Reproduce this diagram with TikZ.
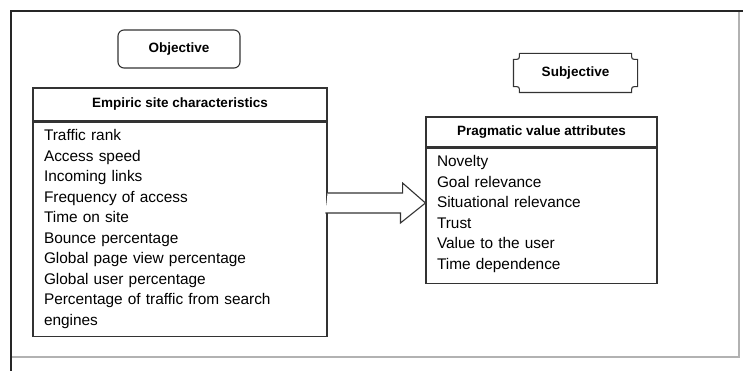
\documentclass[tikz,border=0pt]{standalone}
\usepackage{fontspec}
\setmainfont{Liberation Sans}
\usetikzlibrary{positioning}

\begin{document}
\begin{tikzpicture}[
	x = 1pt,
	y = -1pt,
	font = \fontsize{15.4}{20.5}\selectfont,
	box/.style = {
		draw = black!80,
		line width = 1.1pt
	},
	head/.style = {
		box,
		inner sep = 0pt,
		font = \fontsize{13.5}{16}\selectfont\bfseries
	},
	list/.style = {
		box,
		align = left,
		anchor = north,
		inner xsep = 11pt,
		inner ysep = 7pt,
		text height = 11.5pt
	}
	]
	\useasboundingbox (0,0) rectangle (743,371);
	\draw[line width = 2pt, black!85] (11,371) -- (11,11) -- (743,11);
	\draw[line width = 1.3pt, black!30] (12,357) -- (739,357) -- (739,12);

	\node[head, rounded corners = 6pt, minimum width = 122pt, minimum height = 38pt] (obj) at (179,49) {Objective};
	\node[head, draw = none, minimum width = 123pt, minimum height = 38pt] (subj) at (575.5,73) {Subjective};
	\draw[box] ([xshift=6pt]subj.north west) -- ([xshift=-6pt]subj.north east)
		.. controls ([xshift=-6pt,yshift=-6pt]subj.north east) .. ([yshift=-6pt]subj.north east)
		-- ([yshift=6pt]subj.south east)
		.. controls ([xshift=-6pt,yshift=6pt]subj.south east) .. ([xshift=-6pt]subj.south east)
		-- ([xshift=6pt]subj.south west)
		.. controls ([xshift=6pt,yshift=6pt]subj.south west) .. ([yshift=6pt]subj.south west)
		-- ([yshift=-6pt]subj.north west)
		.. controls ([xshift=6pt,yshift=-6pt]subj.north west) .. ([xshift=6pt]subj.north west);

	\node[head, minimum width = 294pt, minimum height = 33pt] (emphead) at (180,104.5) {Empiric site characteristics};
	\node[list, text width = 272pt, text depth = 188.5pt] (emp) at (emphead.south) {%
		Traffic rank\\
		Access speed\\
		Incoming links\\
		Frequency of access\\
		Time on site\\
		Bounce percentage\\
		Global page view percentage\\
		Global user percentage\\
		Percentage of traffic from search\\
		engines};

	\node[head, minimum width = 231pt, minimum height = 30pt] (praghead) at (541.5,132) {Pragmatic value attributes};
	\node[list, text width = 209pt, text depth = 109.5pt] (prag) at (praghead.south) {%
		Novelty\\
		Goal relevance\\
		Situational relevance\\
		Trust\\
		Value to the user\\
		Time dependence};

	\coordinate (amid) at (0,203);
	\draw[box, fill = white] (emp.east |- amid) ++(0,-10) -- ++(75,0) -- ++(0,-10)
		-- (prag.west |- amid) -- ++(-25,20) -- ++(0,-10) -- ++(-75,0);
\end{tikzpicture}
\end{document}
